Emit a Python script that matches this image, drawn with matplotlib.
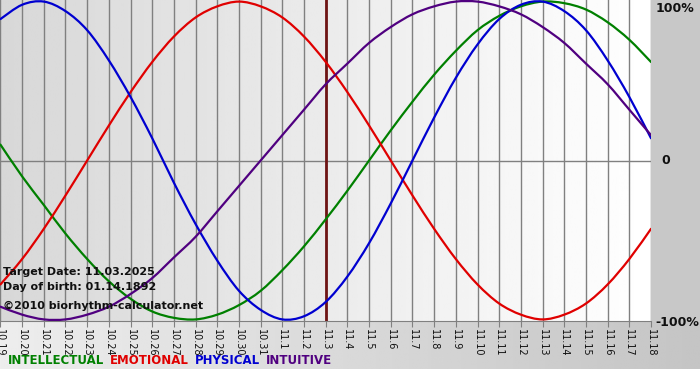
import numpy as np
import matplotlib
matplotlib.use("Agg")
import matplotlib.pyplot as plt
from matplotlib.path import Path
from matplotlib.patches import PathPatch

# ---- data -------------------------------------------------------------
dates = ["10.19", "10.20", "10.21", "10.22", "10.23", "10.24", "10.25", "10.26",
         "10.27", "10.28", "10.29", "10.30", "10.31", "11.1", "11.2", "11.3",
         "11.4", "11.5", "11.6", "11.7", "11.8", "11.9", "11.10", "11.11",
         "11.12", "11.13", "11.14", "11.15", "11.16", "11.17", "11.18"]

physical = [0.89, 0.98, 1.00, 0.94, 0.82, 0.63, 0.40, 0.14, -0.14, -0.40, -0.63,
            -0.82, -0.94, -1.00, -0.98, -0.89, -0.73, -0.52, -0.27, 0.00, 0.27,
            0.52, 0.73, 0.89, 0.98, 1.00, 0.94, 0.82, 0.63, 0.40, 0.14]
emotional = [-0.78, -0.62, -0.43, -0.22, 0.00, 0.22, 0.43, 0.62, 0.78, 0.90, 0.97,
             1.00, 0.97, 0.90, 0.78, 0.62, 0.43, 0.22, 0.00, -0.22, -0.43, -0.62,
             -0.78, -0.90, -0.97, -1.00, -0.97, -0.90, -0.78, -0.62, -0.43]
intellectual = [0.10, -0.10, -0.28, -0.46, -0.62, -0.76, -0.87, -0.95, -0.99, -1.00,
                -0.97, -0.91, -0.82, -0.69, -0.54, -0.37, -0.19, 0.00, 0.19, 0.37,
                0.54, 0.69, 0.82, 0.91, 0.97, 1.00, 0.99, 0.95, 0.87, 0.76, 0.62]
intuitive = [-0.92, -0.97, -1.00, -1.00, -0.97, -0.92, -0.84, -0.74, -0.61, -0.48,
             -0.32, -0.16, 0.00, 0.16, 0.32, 0.48, 0.61, 0.74, 0.84, 0.92, 0.97,
             1.00, 1.00, 0.97, 0.92, 0.84, 0.74, 0.61, 0.48, 0.32, 0.16]

target_label = "11.3"
y_labels = ["100%", "0", "-100%"]
y_values = [1.0, 0.0, -1.0]
info_lines = ["Target Date: 11.03.2025", "Day of birth: 01.14.1892",
              "\u00a92010 biorhythm-calculator.net"]
legend_names = ["INTELLECTUAL", "EMOTIONAL", "PHYSICAL", "INTUITIVE"]

C_INT = "#008000"
C_EMO = "#e00000"
C_PHY = "#0000d0"
C_ITU = "#500080"
series = [(intellectual, C_INT), (emotional, C_EMO), (physical, C_PHY), (intuitive, C_ITU)]


def smooth_path(xs, ys):
    """Path through the data points drawn with Catmull-Rom style Bezier segments."""
    xs = np.asarray(xs, float)
    ys = np.asarray(ys, float)
    n = len(xs)
    verts = [(xs[0], ys[0])]
    codes = [Path.MOVETO]
    for i in range(n - 1):
        i0 = max(i - 1, 0)
        i3 = min(i + 2, n - 1)
        c1 = (xs[i] + (xs[i + 1] - xs[i0]) / 6, ys[i] + (ys[i + 1] - ys[i0]) / 6)
        c2 = (xs[i + 1] - (xs[i3] - xs[i]) / 6, ys[i + 1] - (ys[i3] - ys[i]) / 6)
        verts += [c1, c2, (xs[i + 1], ys[i + 1])]
        codes += [Path.CURVE4] * 3
    return Path(verts, codes)


# ---- figure -------------------------------------------------------------
W, H = 700, 380
fig = plt.figure(figsize=(W / 100, H / 100), dpi=100)

bg = fig.add_axes([0, 0, 1, 1])
bg.set_xlim(0, W)
bg.set_ylim(H, 0)
bg.axis("off")
bg.add_patch(plt.Rectangle((0, 0), W, H, color="white", zorder=0))
grad_h = np.linspace(0.93, 0.77, 256)[None, :]
bg.imshow(grad_h, extent=[0, W, 369, 321], cmap="gray", vmin=0, vmax=1,
          aspect="auto", zorder=1)
bg.add_patch(plt.Rectangle((651, 0), W - 651, 321, color="#c8c8c8", zorder=2))

plot_top, plot_bottom, plot_right = 0, 321, 651
ax = fig.add_axes([0, (H - plot_bottom) / H, plot_right / W, (plot_bottom - plot_top) / H])
x = np.arange(len(dates))
ax.set_xlim(-0.02, len(dates) - 1)
ax.set_ylim(-1.01, 1.01)

grad = np.linspace(0.845, 1.0, 256)[None, :]
ax.imshow(grad, extent=[-0.02, len(dates) - 1, -1.01, 1.01], cmap="gray",
          vmin=0, vmax=1, aspect="auto", zorder=0)

for xi in x:
    ax.axvline(xi, color="#808080", lw=1.0, zorder=1)
ax.axhline(0, color="#808080", lw=1.0, zorder=1)

ti = dates.index(target_label)
ax.axvline(ti, color="#6e1414", lw=2.0, zorder=2)

for vals, col in series:
    ax.add_patch(PathPatch(smooth_path(x, vals), facecolor="none", edgecolor=col,
                           lw=1.6, zorder=3, capstyle="round", joinstyle="round"))

for sp in ["top", "left", "right"]:
    ax.spines[sp].set_visible(False)
ax.spines["bottom"].set_color("#808080")
ax.set_yticks([])
ax.set_xticks(x)
ax.set_xticklabels(dates, rotation=-90, fontsize=7, family="DejaVu Sans",
                   color="#101010")
ax.tick_params(axis="x", length=4, color="#808080", pad=1.5)

# percent labels
pos = {"100%": (656, 8), "0": (661, 161), "-100%": (655, 322)}
for lab in y_labels:
    px, py = pos[lab]
    fig.text(px / W, 1 - py / H, lab, fontsize=9, fontweight="bold",
             va="center", ha="left", color="#101010")

# info text
for line, ypix in zip(info_lines, [272, 287, 306]):
    fig.text(3 / W, 1 - ypix / H, line, fontsize=8, fontweight="bold",
             va="center", ha="left", color="#101010")

# legend as coloured words
fig.canvas.draw()
xpix = 8
for name, col in zip(legend_names, [C_INT, C_EMO, C_PHY, C_ITU]):
    t = fig.text(xpix / W, 1 - 361 / H, name, fontsize=8.5, fontweight="bold",
                 color=col, va="center", ha="left")
    bb = t.get_window_extent(renderer=fig.canvas.get_renderer())
    xpix = bb.x1 + 6

fig.savefig("out.png", dpi=100)
